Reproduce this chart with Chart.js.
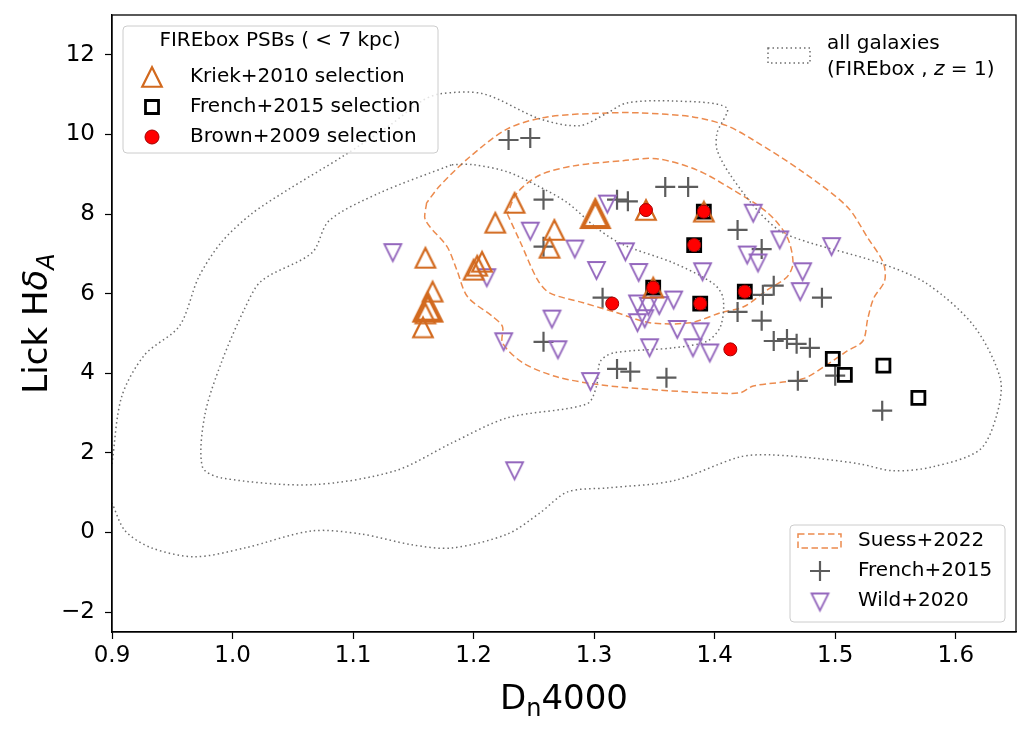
<!DOCTYPE html>
<html>
<head>
<meta charset="utf-8">
<script src="https://cdn.jsdelivr.net/npm/chart.js@4.4.1/dist/chart.umd.min.js"></script>
<style>
  html, body { margin: 0; padding: 0; background: #fff; }
</style>
</head>
<body>
<canvas id="myChart" width="1031" height="732"></canvas>
<script>
// axis ticks
const xTicks = [0.9, 1.0, 1.1, 1.2, 1.3, 1.4, 1.5, 1.6];
const yTicks = [-2, 0, 2, 4, 6, 8, 10, 12];

// FIREbox PSB selections [Dn4000, HdA]
const kriek = [
  [1.160, 6.90], [1.166, 6.05], [1.160, 5.50], [1.158, 5.15],
  [1.200, 6.60], [1.203, 6.70], [1.207, 6.80],
  [1.218, 7.78], [1.234, 8.28], [1.267, 7.60], [1.263, 7.15],
  [1.343, 8.10], [1.391, 8.06], [1.349, 6.15]
];
const kriekBold = [[1.162, 5.65], [1.301, 8.00]];
const frenchSel = [
  [1.391, 8.06], [1.349, 6.15], [1.383, 7.22], [1.388, 5.75], [1.425, 6.05],
  [1.498, 4.36], [1.508, 3.96], [1.540, 4.19], [1.569, 3.38]
];
const brown = [
  [1.343, 8.10], [1.391, 8.06], [1.349, 6.15], [1.383, 7.22],
  [1.388, 5.75], [1.425, 6.05], [1.315, 5.75], [1.413, 4.60]
];

// observations
const french2015 = [
  [1.229, 9.86], [1.247, 9.91], [1.258, 8.36], [1.258, 7.18], [1.307, 5.90],
  [1.319, 8.36], [1.328, 8.32], [1.359, 8.68], [1.378, 8.68], [1.419, 7.60],
  [1.258, 4.79], [1.319, 4.11], [1.330, 4.04], [1.360, 3.89], [1.419, 5.54],
  [1.439, 7.12], [1.449, 6.20], [1.440, 5.97], [1.489, 5.90], [1.439, 5.32],
  [1.449, 4.81], [1.460, 4.86], [1.468, 4.74], [1.479, 4.64], [1.469, 3.81],
  [1.500, 3.94], [1.539, 3.06]
];
const wild2020 = [
  [1.133, 7.03], [1.211, 6.40], [1.247, 7.57], [1.284, 7.12], [1.302, 6.58],
  [1.326, 7.05], [1.337, 6.53], [1.311, 8.25], [1.265, 5.36], [1.225, 4.79],
  [1.270, 4.59], [1.297, 3.79], [1.234, 1.55], [1.336, 5.74], [1.345, 5.68],
  [1.354, 5.70], [1.366, 5.84], [1.336, 5.27], [1.342, 5.37], [1.369, 5.10],
  [1.388, 5.04], [1.346, 4.64], [1.382, 4.64], [1.396, 4.51], [1.390, 6.55],
  [1.432, 8.02], [1.454, 7.35], [1.427, 6.97], [1.436, 6.77], [1.473, 6.55],
  [1.471, 6.05], [1.497, 7.18]
];

// contours
const allOuter = [
  [0.900, 1.72], [0.908, 3.41], [0.927, 4.46], [0.956, 5.19], [0.972, 6.42],
  [0.991, 7.30], [1.016, 8.01], [1.047, 8.63], [1.091, 9.44], [1.131, 10.24],
  [1.156, 10.82], [1.172, 11.02], [1.208, 11.02], [1.255, 10.39], [1.288, 10.22],
  [1.311, 10.54], [1.327, 10.79], [1.366, 10.84], [1.410, 10.67], [1.402, 10.04],
  [1.402, 9.61], [1.413, 8.98], [1.438, 8.01], [1.460, 7.48], [1.537, 6.77],
  [1.576, 6.25], [1.615, 5.19], [1.637, 3.86], [1.634, 2.95], [1.620, 2.08],
  [1.581, 1.65], [1.548, 1.55], [1.521, 1.72], [1.488, 1.85], [1.446, 1.95],
  [1.421, 1.90], [1.366, 1.30], [1.311, 1.12], [1.278, 1.02], [1.255, 0.49],
  [1.228, -0.04], [1.182, -0.39], [1.149, -0.31], [1.107, -0.04], [1.066, 0.04],
  [1.010, -0.39], [0.969, -0.61], [0.933, -0.39], [0.911, 0.04], [0.900, 0.74]
];
const allInner = [
  [1.182, 9.24], [1.200, 9.24], [1.228, 9.06], [1.253, 8.71], [1.278, 8.28],
  [1.302, 7.65], [1.324, 7.23], [1.366, 6.77], [1.399, 6.25], [1.407, 5.89],
  [1.405, 5.19], [1.394, 4.81], [1.366, 4.64], [1.316, 4.51], [1.305, 4.29],
  [1.302, 3.68], [1.294, 3.23], [1.228, 2.88], [1.182, 2.25], [1.135, 1.55],
  [1.066, 1.20], [0.991, 1.37], [0.975, 1.65], [0.977, 2.95], [0.991, 4.29],
  [1.010, 5.62], [1.024, 6.32], [1.066, 7.03], [1.080, 7.83], [1.122, 8.53]
];
const suessOuter = [
  [1.161, 8.28], [1.160, 7.85], [1.178, 7.18], [1.186, 6.60], [1.195, 5.92],
  [1.216, 5.42], [1.224, 5.17], [1.224, 4.76], [1.241, 4.26], [1.269, 3.91],
  [1.305, 3.71], [1.352, 3.58], [1.394, 3.51], [1.421, 3.51], [1.432, 3.68],
  [1.473, 3.86], [1.493, 4.21], [1.510, 4.56], [1.523, 4.81], [1.527, 5.37],
  [1.532, 5.89], [1.541, 6.32], [1.540, 6.77], [1.527, 7.40], [1.510, 8.18],
  [1.473, 9.06], [1.432, 9.86], [1.410, 10.22], [1.382, 10.44], [1.338, 10.54],
  [1.311, 10.54], [1.261, 10.44], [1.228, 10.14], [1.197, 9.44], [1.172, 8.71]
];
const suessInner = [
  [1.228, 8.00], [1.239, 7.28], [1.253, 6.35], [1.263, 6.02], [1.291, 5.77],
  [1.319, 5.52], [1.346, 5.27], [1.380, 5.27], [1.405, 5.52], [1.424, 5.67],
  [1.444, 6.10], [1.460, 6.42], [1.465, 6.77], [1.460, 7.43], [1.444, 8.03],
  [1.415, 8.61], [1.385, 9.11], [1.352, 9.39], [1.324, 9.34], [1.283, 9.21],
  [1.255, 8.98], [1.236, 8.53]
];

const FONT = '"DejaVu Sans", "Liberation Sans", sans-serif';
const C_KRIEK = "#d2691e";
const C_PLUS = "#5c5c5c";
const C_WILD = "#9467bd";
const C_SUESS = "#ec8b4e";
const C_ALL = "#6e6e6e";

const toPts = (arr) => arr.map(([x, y]) => ({ x, y }));
const closeLoop = (arr) => arr.concat([arr[0]]);

// matplotlib-like triangle marker (as tall as it is wide), used as pointStyle image
function triangleImg(w, lw, color, down) {
  const pad = Math.ceil(lw * 1.6);
  const size = Math.ceil(w) + pad * 2;
  const c = document.createElement("canvas");
  c.width = size;
  c.height = size;
  const g = c.getContext("2d");
  const m = size / 2;
  const h = w / 2;
  g.strokeStyle = color;
  g.lineWidth = lw;
  g.lineJoin = "miter";
  g.beginPath();
  if (down) {
    g.moveTo(m, m + h);
    g.lineTo(m - h, m - h);
    g.lineTo(m + h, m - h);
  } else {
    g.moveTo(m, m - h);
    g.lineTo(m - h, m + h);
    g.lineTo(m + h, m + h);
  }
  g.closePath();
  g.stroke();
  return c;
}

const imgKriek = triangleImg(19.5, 2.2, C_KRIEK, false);
const imgKriekBold = triangleImg(26, 4, C_KRIEK, false);
const imgWild = triangleImg(17, 1.8, C_WILD, true);

function contour(label, pts, color, dash) {
  return {
    label,
    data: toPts(pts),
    showLine: true,
    pointRadius: 0,
    borderColor: color,
    borderWidth: 1.5,
    borderDash: dash,
    tension: 0.3,
    fill: false,
    order: 10,
  };
}

function markers(label, pts, style, opts) {
  return Object.assign(
    {
      label,
      data: toPts(pts),
      showLine: false,
      pointStyle: style,
      pointBackgroundColor: "rgba(0,0,0,0)",
    },
    opts
  );
}

// rich text: parts drawn one after another, centred on (cx, cy)
function drawRich(ctx, parts, cx, cy, angle, align) {
  ctx.save();
  ctx.translate(cx, cy);
  ctx.rotate(angle || 0);
  let total = 0;
  parts.forEach((p) => {
    ctx.font = p.font;
    p.w = ctx.measureText(p.t).width;
    total += p.w;
  });
  let x = align === "left" ? 0 : -total / 2;
  ctx.textAlign = "left";
  ctx.textBaseline = "alphabetic";
  ctx.fillStyle = "#000";
  parts.forEach((p) => {
    ctx.font = p.font;
    ctx.fillText(p.t, x, p.dy || 0);
    x += p.w;
  });
  ctx.restore();
}

function roundBox(ctx, x0, y0, x1, y1) {
  ctx.save();
  ctx.beginPath();
  ctx.roundRect(x0, y0, x1 - x0, y1 - y0, 4);
  ctx.fillStyle = "rgba(255,255,255,0.8)";
  ctx.fill();
  ctx.strokeStyle = "#cccccc";
  ctx.lineWidth = 1;
  ctx.stroke();
  ctx.restore();
}

function marker(ctx, style, x, y, radius, stroke, fill, bw) {
  ctx.save();
  ctx.strokeStyle = stroke;
  ctx.fillStyle = fill;
  ctx.lineWidth = bw;
  Chart.helpers.drawPoint(ctx, { pointStyle: style, rotation: 0, radius: radius, borderWidth: bw }, x, y);
  ctx.restore();
}

function image(ctx, img, x, y) {
  ctx.drawImage(img, x - img.width / 2, y - img.height / 2);
}

const decorations = {
  id: "decorations",
  afterDatasetsDraw(chart) {
    const ctx = chart.ctx;
    const a = chart.chartArea;

    // frame
    ctx.save();
    ctx.strokeStyle = "#000";
    ctx.lineWidth = 1.3;
    ctx.strokeRect(a.left, a.top, a.right - a.left, a.bottom - a.top);
    ctx.restore();

    const f20 = "20px " + FONT;

    // legend: FIREbox PSBs
    roundBox(ctx, 123, 26, 438, 153);
    ctx.save();
    ctx.font = f20;
    ctx.fillStyle = "#000";
    ctx.textBaseline = "middle";
    ctx.textAlign = "center";
    ctx.fillText("FIREbox PSBs ( < 7 kpc)", 280, 41);
    ctx.textAlign = "left";
    ctx.fillText("Kriek+2010 selection", 190, 77);
    ctx.fillText("French+2015 selection", 190, 107);
    ctx.fillText("Brown+2009 selection", 190, 137);
    ctx.restore();
    image(ctx, imgKriek, 152, 77);
    marker(ctx, "rect", 152, 107, 9.2, "#000", "rgba(0,0,0,0)", 2.8);
    marker(ctx, "circle", 152, 137, 7, "#a00000", "#ff0000", 1);

    // legend: all galaxies
    ctx.save();
    ctx.strokeStyle = C_ALL;
    ctx.lineWidth = 1.5;
    ctx.setLineDash([1.5, 3]);
    ctx.strokeRect(768, 48, 42, 15);
    ctx.restore();
    ctx.save();
    ctx.font = f20;
    ctx.fillStyle = "#000";
    ctx.textBaseline = "middle";
    ctx.fillText("all galaxies", 827, 44);
    ctx.restore();
    drawRich(ctx, [
      { t: "(FIREbox , ", font: f20 },
      { t: "z", font: "italic " + f20 },
      { t: " = 1)", font: f20 },
    ], 827, 75, 0, "left");

    // legend: observations
    roundBox(ctx, 790, 525, 1005, 622);
    ctx.save();
    ctx.strokeStyle = C_SUESS;
    ctx.lineWidth = 1.5;
    ctx.setLineDash([6.5, 3.5]);
    ctx.strokeRect(798, 534, 43, 14);
    ctx.restore();
    marker(ctx, "cross", 820, 571, 10, C_PLUS, "rgba(0,0,0,0)", 2.2);
    image(ctx, imgWild, 820, 602);
    ctx.save();
    ctx.font = f20;
    ctx.fillStyle = "#000";
    ctx.textBaseline = "middle";
    ctx.fillText("Suess+2022", 858, 541);
    ctx.fillText("French+2015", 858, 571);
    ctx.fillText("Wild+2020", 858, 601);
    ctx.restore();

    // axis titles
    const f34 = "34px " + FONT;
    const f24 = "24px " + FONT;
    drawRich(ctx, [
      { t: "D", font: f34 },
      { t: "n", font: f24, dy: 7 },
      { t: "4000", font: f34 },
    ], (a.left + a.right) / 2, 709, 0);
    drawRich(ctx, [
      { t: "Lick H", font: f34 },
      { t: "\u03b4", font: "italic " + f34 },
      { t: "A", font: "italic " + f24, dy: 7 },
    ], 47, (a.top + a.bottom) / 2, -Math.PI / 2);
  },
};

const ctx = document.getElementById("myChart");

new Chart(ctx, {
  type: "scatter",
  data: {
    datasets: [
      contour("all outer", allOuter, C_ALL, [1.5, 3]),
      contour("all inner", closeLoop(allInner), C_ALL, [1.5, 3]),
      contour("Suess outer", closeLoop(suessOuter), C_SUESS, [6.5, 3.5]),
      contour("Suess inner", closeLoop(suessInner), C_SUESS, [6.5, 3.5]),
      markers("French+2015", french2015, "cross", {
        pointRadius: 10, pointBorderWidth: 2.2, pointBorderColor: C_PLUS, order: 8,
      }),
      markers("Wild+2020", wild2020, imgWild, { order: 7 }),
      markers("French+2015 selection", frenchSel, "rect", {
        pointRadius: 9.2, pointBorderWidth: 2.8, pointBorderColor: "#000", order: 6,
      }),
      markers("Kriek+2010 selection", kriek, imgKriek, { order: 5 }),
      markers("Kriek+2010 selection (bold)", kriekBold, imgKriekBold, { order: 4 }),
      markers("Brown+2009 selection", brown, "circle", {
        pointRadius: 6.5, pointBorderWidth: 1, pointBorderColor: "#a00000",
        pointBackgroundColor: "#ff0000", order: 3,
      }),
    ],
  },
  options: {
    responsive: false,
    animation: false,
    events: [],
    layout: { padding: { left: 0, right: 15, top: 15, bottom: 0 } },
    plugins: {
      legend: { display: false },
      tooltip: { enabled: false },
    },
    scales: {
      x: {
        type: "linear",
        min: 0.9,
        max: 1.65,
        afterBuildTicks: (scale) => { scale.ticks = xTicks.map((v) => ({ value: v })); },
        afterFit: (scale) => {
          scale.height = 100;
          scale.paddingLeft = 0;
          scale.paddingRight = 0;
        },
        ticks: {
          color: "#000",
          font: { family: FONT, size: 23 },
          padding: 3,
          maxRotation: 0,
          callback: (v) => Number(v).toFixed(1),
        },
        grid: { drawOnChartArea: false, tickLength: 7, tickColor: "#000", tickWidth: 1.2 },
        border: { display: true, color: "#000", width: 1.3 },
      },
      y: {
        type: "linear",
        min: -2.5,
        max: 13,
        afterBuildTicks: (scale) => { scale.ticks = yTicks.map((v) => ({ value: v })); },
        afterFit: (scale) => {
          scale.width = 112;
          scale.paddingTop = 0;
          scale.paddingBottom = 0;
        },
        ticks: {
          color: "#000",
          font: { family: FONT, size: 23 },
          padding: 10,
          callback: (v) => (v < 0 ? "\u2212" + Math.abs(v) : String(v)),
        },
        grid: { drawOnChartArea: false, tickLength: 7, tickColor: "#000", tickWidth: 1.2 },
        border: { display: true, color: "#000", width: 1.3 },
      },
    },
  },
  plugins: [decorations],
});
</script>
</body>
</html>
